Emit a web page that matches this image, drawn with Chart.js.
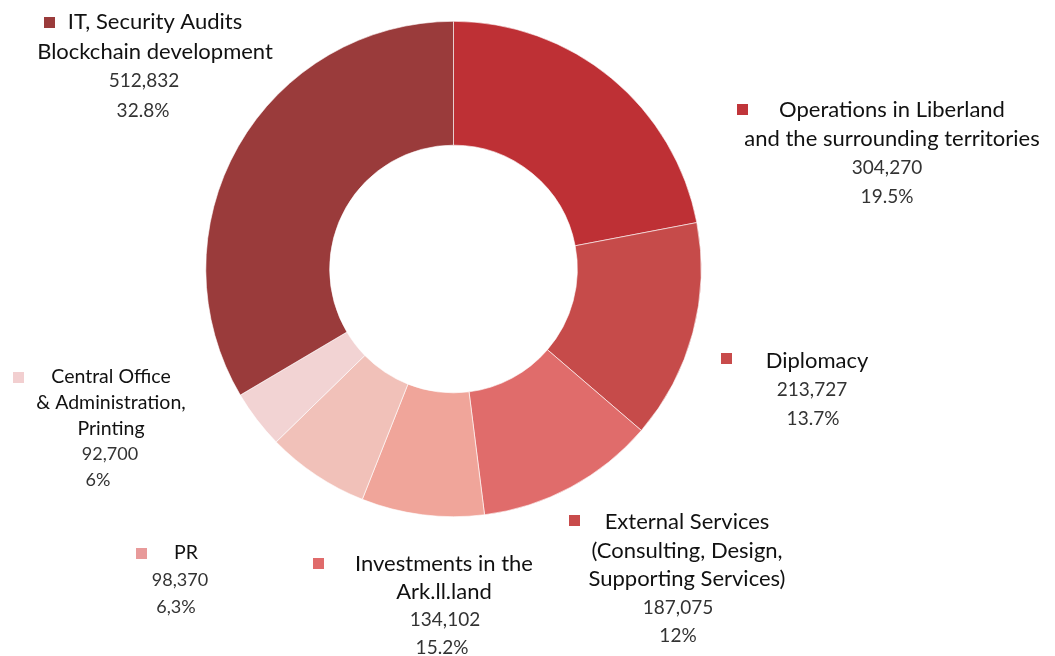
<!DOCTYPE html>
<html>
<head>
<meta charset="utf-8">
<script src="https://cdn.jsdelivr.net/npm/chart.js@4"></script>
<style>
  html, body { margin: 0; padding: 0; background: #fff; }
  #wrap { width: 1055px; height: 656px; position: relative; }
</style>
</head>
<body>
<div id="wrap"><canvas id="budget" width="1055" height="656"></canvas></div>
<script>
// ================================
// DATA
// ================================
const categories = [
  "Operations in Liberland and the surrounding territories",
  "Diplomacy",
  "External Services (Consulting, Design, Supporting Services)",
  "Investments in the Ark.ll.land",
  "PR",
  "Central Office & Administration, Printing",
  "IT, Security Audits Blockchain development"
];

// slice sizes as drawn (share of the ring, %)
const sliceShares = [22.0, 14.3, 11.7, 8.0, 6.7, 3.8, 33.5];

// printed figures next to each slice
const amountLabels = ["304,270", "213,727", "187,075", "134,102", "98,370", "92,700", "512,832"];
const percentLabels = ["19.5%", "13.7%", "12%", "15.2%", "6,3%", "6%", "32.8%"];

// how each category name is broken into lines
const nameLines = [
  ["Operations in Liberland", "and the surrounding territories"],
  ["Diplomacy"],
  ["External Services", "(Consulting, Design,", "Supporting Services)"],
  ["Investments in the", "Ark.ll.land"],
  ["PR"],
  ["Central Office", "& Administration,", "Printing"],
  ["IT, Security Audits", "Blockchain development"]
];

const sliceColors  = ["#be3035", "#c64b4a", "#e06c6b", "#f0a59a", "#f1c1b9", "#f2d3d3", "#9a3b3b"];
const markerColors = ["#c0353a", "#c84b4b", "#c84b4b", "#e06b6b", "#e89a9a", "#f2cfd0", "#9a3b3b"];


// ================================
// LABEL LAYOUT (text blocks, px)
// ================================
// x: centre of the text block, y: middle of first line,
// mx/my: marker square, lh: line height, size/numSize: font sizes
const labelLayout = [
  { x: 892, y: 110, mx: 737, my: 104, lh: 29,   size: 22,   numSize: 19, nums: [887, 887] },
  { x: 817, y: 361, mx: 721, my: 353, lh: 29,   size: 22,   numSize: 19, nums: [812, 813] },
  { x: 687, y: 522, mx: 569, my: 515, lh: 28.5, size: 22,   numSize: 19, nums: [678, 678] },
  { x: 444, y: 564, mx: 313, my: 558, lh: 28,   size: 22,   numSize: 19, nums: [445, 442] },
  { x: 186, y: 553, mx: 136, my: 548, lh: 27,   size: 19.5, numSize: 18, nums: [180, 176] },
  { x: 111, y: 377, mx: 13,  my: 372, lh: 25.8, size: 19.5, numSize: 18, nums: [110, 98] },
  { x: 155, y: 22,  mx: 44,  my: 17,  lh: 29.5, size: 22,   numSize: 19, nums: [144, 143] }
];

const FONT = "Lato, 'Open Sans', sans-serif";


// ================================
// OUTSIDE LABELS PLUGIN
// ================================
const outsideLabels = {
  id: "outsideLabels",
  afterDraw(chart) {
    const ctx = chart.ctx;
    ctx.save();
    ctx.textAlign = "center";
    ctx.textBaseline = "middle";

    labelLayout.forEach((pos, i) => {
      ctx.fillStyle = markerColors[i];
      ctx.fillRect(pos.mx, pos.my, 11, 11);

      let y = pos.y;
      ctx.fillStyle = "#111";
      ctx.font = pos.size + "px " + FONT;
      nameLines[i].forEach(line => {
        ctx.fillText(line, pos.x, y);
        y += pos.lh;
      });

      ctx.fillStyle = "#333";
      ctx.font = pos.numSize + "px " + FONT;
      ctx.fillText(amountLabels[i], pos.nums[0], y);
      y += pos.lh;
      ctx.fillText(percentLabels[i], pos.nums[1], y);
    });

    ctx.restore();
  }
};


// ================================
// BUILD CHART
// ================================
new Chart(document.getElementById("budget"), {
  type: "doughnut",
  data: {
    labels: categories,
    datasets: [{
      data: sliceShares,
      backgroundColor: sliceColors,
      borderColor: "#ffffff",
      borderWidth: 0.6
    }]
  },
  options: {
    responsive: false,
    animation: false,
    cutout: "50%",
    layout: { padding: { left: 205, right: 353, top: 21, bottom: 139 } },
    plugins: {
      legend: { display: false },
      tooltip: { enabled: false }
    }
  },
  plugins: [outsideLabels]
});
</script>
</body>
</html>
